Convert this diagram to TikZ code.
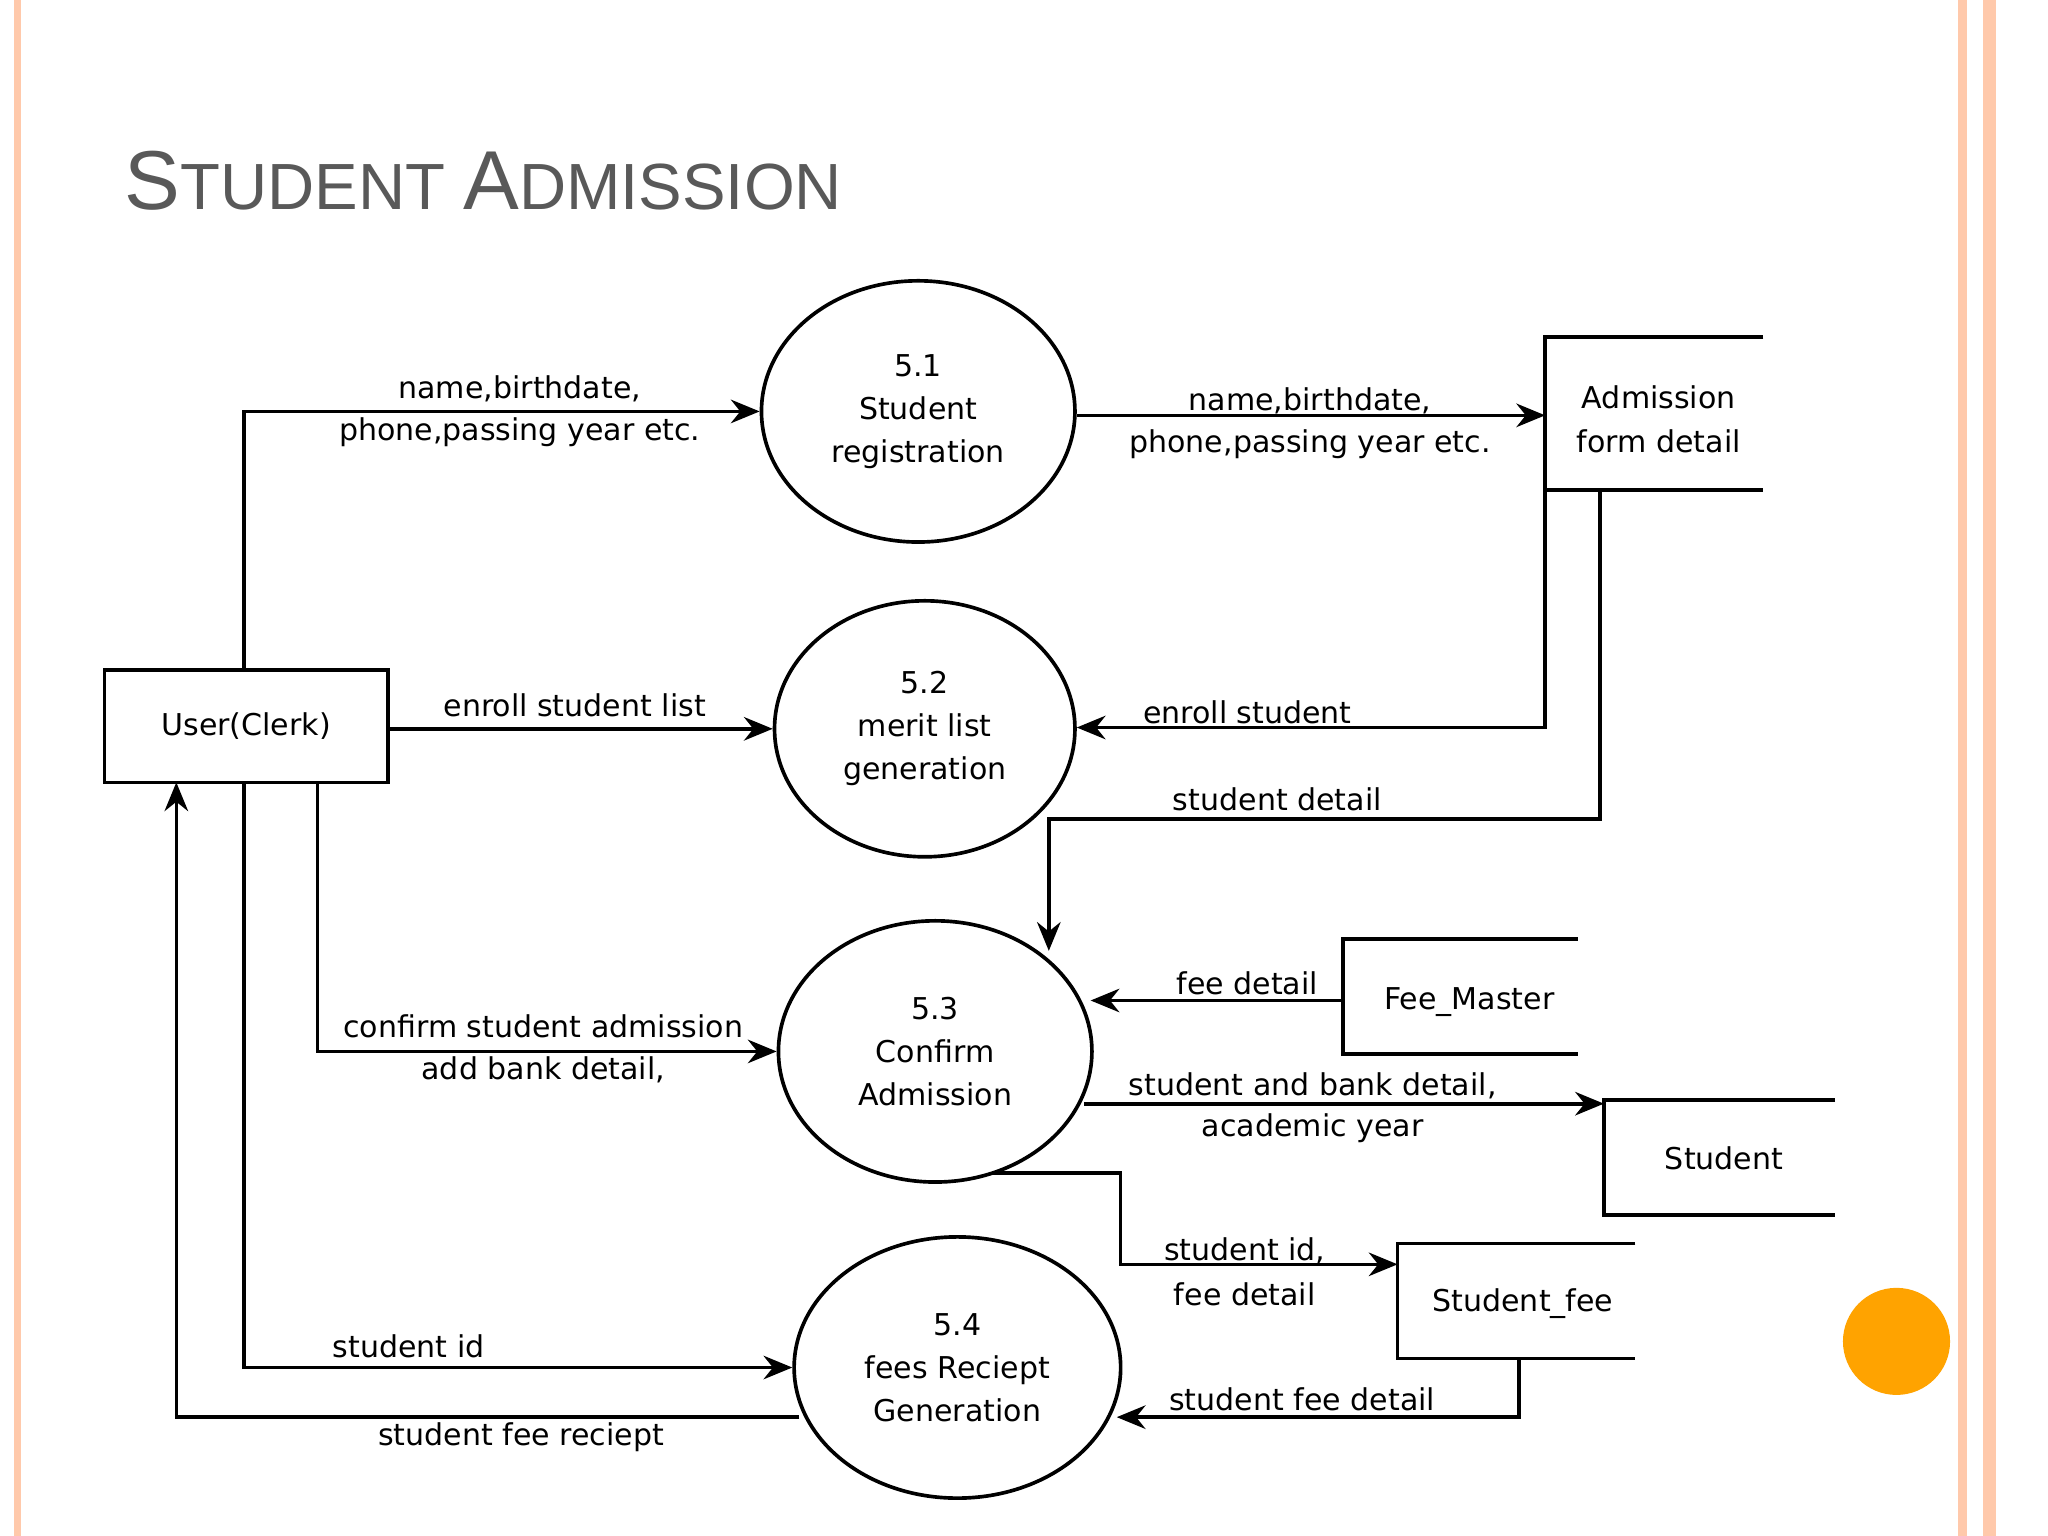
\documentclass[tikz,border=0pt]{standalone}
\usepackage{fontspec}
\setmainfont{DejaVu Sans}
\newfontfamily\titlefont{Liberation Sans}
\usetikzlibrary{arrows.meta,shapes.geometric}
\begin{document}
\begin{tikzpicture}[x=0.5pt,y=-0.5pt,
  flow/.style={line width=1.4pt,-{Stealth[length=11pt,width=9pt]}},
  proc/.style={ellipse,draw,line width=1.4pt,inner sep=0pt,align=center,font=\fontsize{11.5}{16.5}\selectfont},
  ent/.style={draw,line width=1.4pt,inner sep=0pt,font=\fontsize{11.5}{14}\selectfont},
  lbl/.style={font=\fontsize{11.5}{16.5}\selectfont,align=center,inner sep=0pt},
  store/.style={line width=1.4pt}]
\useasboundingbox (0,0) rectangle (1568,1176);
\fill[white] (0,0) rectangle (1568,1176);
% slide borders
\fill[orange!40!pink!60] (11,0) rectangle (16,1176);
\fill[orange!40!pink!60] (1499,0) rectangle (1506,1176);
\fill[orange!40!pink!60] (1518,0) rectangle (1528,1176);
\begin{scope}
\clip (1411,900) rectangle (1568,1150);
\fill[orange!80!red!60!yellow] (1452,1027) circle [radius=41];
\end{scope}
\node[anchor=west,text=black!65,inner sep=0pt] (title) at (95,138) {\titlefont\fontsize{32}{36}\selectfont S\fontsize{25}{30}\selectfont TUDENT \fontsize{32}{36}\selectfont A\fontsize{25}{30}\selectfont DMISSION};
% entity
\node[ent,minimum width=108.5pt,minimum height=43pt] (user) at (188.5,556) {User(Clerk)};
% processes
\node[proc,minimum width=120pt,minimum height=100pt] (p1) at (703,315) {5.1\\Student\\registration};
\node[proc,minimum width=115pt,minimum height=98pt] (p2) at (708,558) {5.2\\merit list\\generation};
\node[proc,minimum width=120pt,minimum height=100pt] (p3) at (716,805) {5.3\\Confirm\\Admission};
\node[proc,minimum width=125pt,minimum height=100pt] (p4) at (733,1047) {5.4\\fees Reciept\\Generation};
% stores
\draw[store] (1350,258) -- (1183,258) -- (1183,375) -- (1350,375);
\node[lbl] (s1) at (1270,321) {Admission\\form detail};
\draw[store] (1208,719) -- (1028,719) -- (1028,807) -- (1208,807);
\node[lbl] (s2) at (1125,767) {Fee\_Master};
\draw[store] (1405,842) -- (1228,842) -- (1228,930) -- (1405,930);
\node[lbl] (s3) at (1320,887) {Student};
\draw[store] (1252,952) -- (1070,952) -- (1070,1040) -- (1252,1040);
\node[lbl] (s4) at (1166,998) {Student\_fee};
% coordinates
\coordinate (u1) at (187,513); \coordinate (u1b) at (187,315);
\coordinate (a1) at (1183,318);
\coordinate (a2) at (1183,375); \coordinate (a2b) at (1183,557);
\coordinate (a3) at (1225,375); \coordinate (a3b) at (1225,627); \coordinate (a3c) at (803,627); \coordinate (a3d) at (803,728);
\coordinate (f1) at (1028,766);
\coordinate (u2) at (243,599); \coordinate (u2b) at (243,805);
\coordinate (st) at (1228,845);
\coordinate (p3b) at (760,898); \coordinate (p3c) at (858,898); \coordinate (p3d) at (858,968); \coordinate (sf) at (1070,968);
\coordinate (u3) at (187,599); \coordinate (u3b) at (187,1047);
\coordinate (sf2) at (1163,1040); \coordinate (sf2b) at (1163,1085);
\coordinate (r1) at (135,1085); \coordinate (u4) at (135,599);
% flows
\draw[flow] (u1) -- (u1b) -- (p1.west);
\node[lbl] at (398,298) {name,birthdate,}; \node[lbl] at (398,331) {phone,passing year etc.};
\draw[flow] (p1.east |- a1) -- (a1);
\node[lbl] at (1003,307) {name,birthdate,}; \node[lbl] at (1003,340) {phone,passing year etc.};
\draw[flow] (user.east |- p2) -- (p2.west);
\node[lbl] at (440,540) {enroll student list};
\draw[flow] (a2) -- (a2b) -- (p2.east |- a2b);
\node[lbl] at (955,545) {enroll student};
\draw[flow] (a3) -- (a3b) -- (a3c) -- (a3d);
\node[lbl] at (978,612) {student detail};
\draw[flow] (f1) -- (835,766);
\node[lbl] at (955,753) {fee detail};
\draw[flow] (u2) -- (u2b) -- (p3.west);
\node[lbl] at (416,786) {confirm student admission}; \node[lbl] at (416,819) {add bank detail,};
\draw[flow] (830,845) -- (st);
\node[lbl] at (1005,831) {student and bank detail,}; \node[lbl] at (1005,864) {academic year};
\draw[flow] (p3b) -- (p3c) -- (p3d) -- (sf);
\node[lbl] at (953,958) {student id,}; \node[lbl] at (953,991) {fee detail};
\draw[flow] (u3) -- (u3b) -- (p4.west);
\node[lbl] at (313,1031) {student id};
\draw[flow] (sf2) -- (sf2b) -- (855,1085);
\node[lbl] at (997,1071) {student fee detail};
\draw[flow] (612,1085) -- (r1) -- (u4);
\node[lbl] at (399,1100) {student fee reciept};
\end{tikzpicture}
\end{document}
